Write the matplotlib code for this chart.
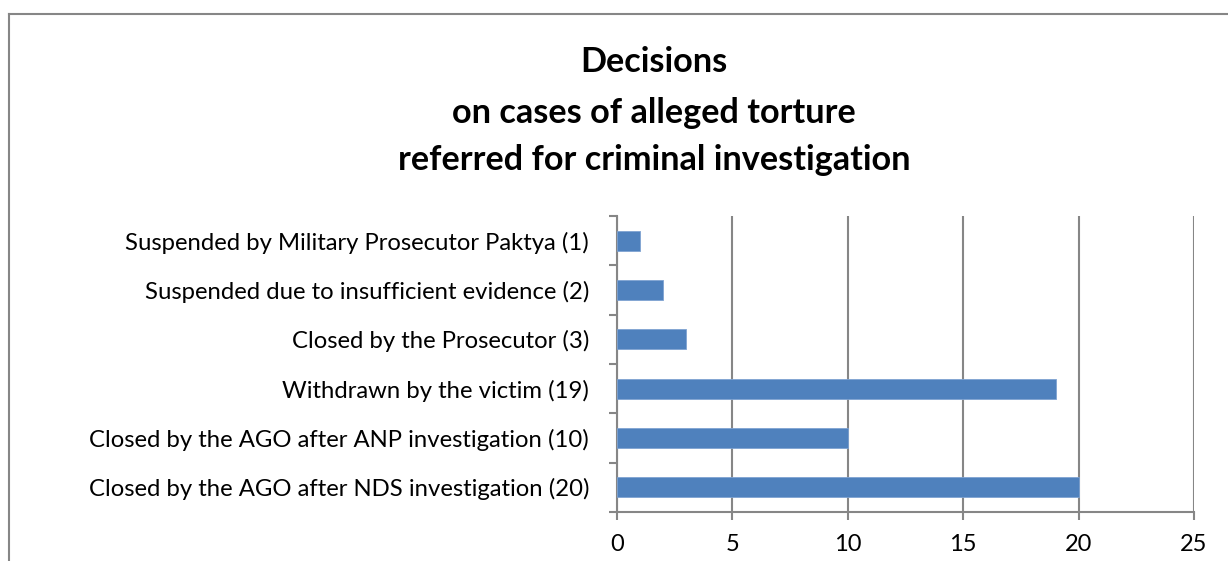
import matplotlib
matplotlib.use("Agg")
import matplotlib.pyplot as plt
from matplotlib.lines import Line2D
import numpy as np

categories = [
    "Closed by the AGO after NDS investigation (20)",
    "Closed by the AGO after ANP investigation (10)",
    "Withdrawn by the victim (19)",
    "Closed by the Prosecutor (3)",
    "Suspended due to insufficient evidence (2)",
    "Suspended by Military Prosecutor Paktya (1)",
]
values = [20, 10, 19, 3, 2, 1]
x_ticks = [0, 5, 10, 15, 20, 25]
title_lines = ["Decisions", "on cases of alleged torture", "referred for criminal investigation"]

plt.rcParams['font.family'] = ['Lato', 'DejaVu Sans']

W, H = 1228, 561
fig = plt.figure(figsize=(W / 100, H / 100), dpi=100)
ax = fig.add_axes([617 / W, 1 - 512 / H, (1194 - 617) / W, (512 - 216) / H])

grid_c = "#868686"
y = np.arange(len(categories))
ax.barh(y, values, height=0.4, color="#4F81BD", edgecolor="#7FA3D2", linewidth=0.6, zorder=3)

ax.set_xlim(0, 25)
ax.set_ylim(-0.5, len(categories) - 0.5)
ax.set_xticks(x_ticks)
ax.set_xticklabels([str(t) for t in x_ticks], fontsize=17)
ax.xaxis.grid(True, color=grid_c, linewidth=1.5, zorder=0)
ax.set_axisbelow(True)

ax.set_yticks(np.arange(-0.5, len(categories), 1.0))
ax.set_yticklabels([])
ax.set_yticks(y, minor=True)
ax.set_yticklabels(categories, minor=True, fontsize=17.2)
ax.tick_params(axis='y', which='minor', length=0, pad=20)
ax.tick_params(axis='y', which='major', length=6, width=1.5, color=grid_c, direction='out')
ax.tick_params(axis='x', which='major', length=6, width=1.5, color=grid_c, direction='out', pad=10)

for s in ['top', 'right']:
    ax.spines[s].set_visible(False)
for s in ['left', 'bottom']:
    ax.spines[s].set_color(grid_c)
    ax.spines[s].set_linewidth(1.5)

for line, base in zip(title_lines, [72, 123, 170]):
    fig.text(654 / W, 1 - base / H, line, ha='center', va='baseline', fontsize=24.7,
             fontweight='bold')

# chart-area border
fig.add_artist(Line2D([9 / W, 9 / W], [0, 1 - 14 / H], transform=fig.transFigure, color=grid_c, linewidth=1.5))
fig.add_artist(Line2D([9 / W, 1], [1 - 14 / H, 1 - 14 / H], transform=fig.transFigure, color=grid_c, linewidth=1.5))

fig.savefig("out.png", dpi=100)
